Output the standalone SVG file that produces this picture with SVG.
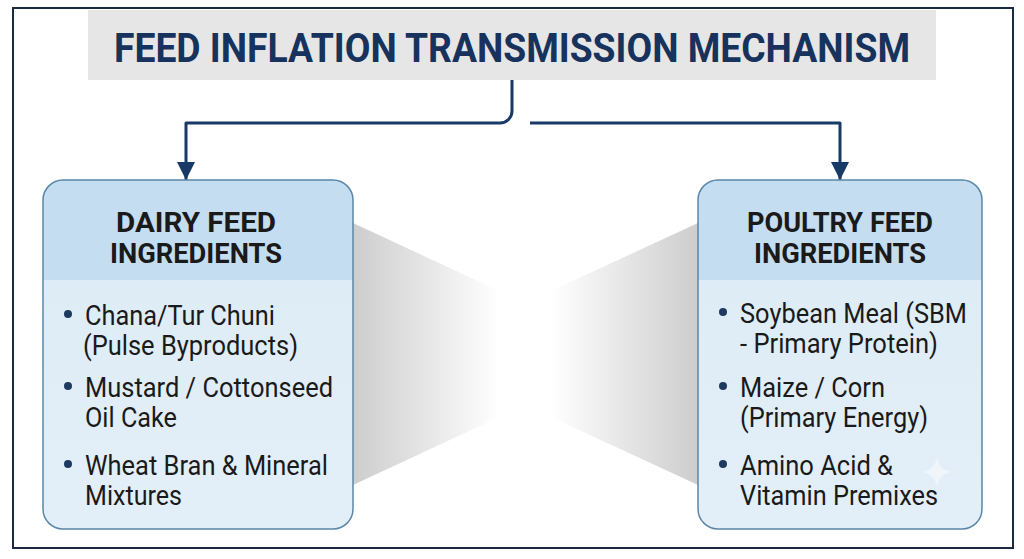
<svg xmlns="http://www.w3.org/2000/svg" width="1024" height="559" viewBox="0 0 1024 559">
  <defs>
    <style>
      .title { font-family: Roboto, "Liberation Sans", sans-serif; font-weight: 700; font-size: 40px; fill: #17325c; }
      .hdr { font-family: Roboto, "Liberation Sans", sans-serif; font-weight: 700; font-size: 27px; fill: #1a1a1a; text-anchor: middle; }
      .item { font-family: Roboto, "Liberation Sans", sans-serif; font-size: 27px; fill: #1a1a1a; }
      .conn { fill: none; stroke: #173a66; stroke-width: 3; stroke-linejoin: round; }
      .body { fill: url(#bodyGrad); }
      .head { fill: #c5ddf0; }
      .border { fill: none; stroke: #5b87a8; stroke-width: 1.5; }
      .dot { fill: #1f3a60; }
    </style>
    <marker id="arrow" viewBox="0 0 10 10" refX="10" refY="5" markerWidth="18" markerHeight="18" markerUnits="userSpaceOnUse" orient="auto">
      <path d="M0,0 L10,5 L0,10 z" fill="#173a66"/>
    </marker>
    <linearGradient id="bodyGrad" x1="0" y1="0" x2="0" y2="1">
      <stop offset="0" stop-color="#dcebf6"/>
      <stop offset="1" stop-color="#e3eff8"/>
    </linearGradient>
    <linearGradient id="shadeL" x1="353" y1="0" x2="525" y2="0" gradientUnits="userSpaceOnUse">
      <stop offset="0" stop-color="#cdcdcd"/>
      <stop offset="0.85" stop-color="#ffffff"/>
    </linearGradient>
    <linearGradient id="shadeR" x1="698" y1="0" x2="525" y2="0" gradientUnits="userSpaceOnUse">
      <stop offset="0" stop-color="#cdcdcd"/>
      <stop offset="0.85" stop-color="#ffffff"/>
    </linearGradient>
  </defs>

  <rect x="0" y="0" width="1024" height="559" fill="#ffffff"/>
  <rect x="13" y="8" width="1000" height="540" fill="none" stroke="#1b2a40" stroke-width="2"/>

  <g id="shadows">
    <polygon points="353,223 525,303 525,405 353,485" fill="url(#shadeL)"/>
    <polygon points="698,223 525,303 525,405 698,485" fill="url(#shadeR)"/>
  </g>

  <g id="title">
    <rect x="88" y="10" width="848" height="70" fill="#e6e6e6"/>
    <text class="title" x="114" y="62" textLength="796" lengthAdjust="spacingAndGlyphs">FEED INFLATION TRANSMISSION MECHANISM</text>
  </g>

  <g id="connectors">
    <path class="conn" d="M512,80 V111 A12,12 0 0 1 500,123 H186 V180" marker-end="url(#arrow)"/>
    <path class="conn" d="M530,123 H840 V180" marker-end="url(#arrow)"/>
  </g>

  <g id="dairy">
    <rect class="body" x="43" y="180" width="310" height="349" rx="20"/>
    <path class="head" d="M43,280 V200 A20,20 0 0 1 63,180 H333 A20,20 0 0 1 353,200 V280 Z"/>
    <rect class="border" x="43" y="180" width="310" height="349" rx="20"/>
    <text class="hdr" x="196" y="232" textLength="160" lengthAdjust="spacingAndGlyphs">DAIRY FEED</text>
    <text class="hdr" x="196" y="263" textLength="172" lengthAdjust="spacingAndGlyphs">INGREDIENTS</text>
    <circle class="dot" cx="68" cy="314" r="4"/>
    <text class="item" x="85" y="325" textLength="190" lengthAdjust="spacingAndGlyphs">Chana/Tur Chuni</text>
    <text class="item" x="83" y="355" textLength="215" lengthAdjust="spacingAndGlyphs">(Pulse Byproducts)</text>
    <circle class="dot" cx="68" cy="386" r="4"/>
    <text class="item" x="85" y="397" textLength="248" lengthAdjust="spacingAndGlyphs">Mustard / Cottonseed</text>
    <text class="item" x="85" y="427" textLength="92" lengthAdjust="spacingAndGlyphs">Oil Cake</text>
    <circle class="dot" cx="68" cy="464" r="4"/>
    <text class="item" x="85" y="475" textLength="243" lengthAdjust="spacingAndGlyphs">Wheat Bran &amp; Mineral</text>
    <text class="item" x="85" y="505" textLength="97" lengthAdjust="spacingAndGlyphs">Mixtures</text>
  </g>

  <g id="poultry">
    <rect class="body" x="698" y="180" width="284" height="349" rx="20"/>
    <path class="head" d="M698,280 V200 A20,20 0 0 1 718,180 H962 A20,20 0 0 1 982,200 V280 Z"/>
    <rect class="border" x="698" y="180" width="284" height="349" rx="20"/>
    <text class="hdr" x="840" y="232" textLength="186" lengthAdjust="spacingAndGlyphs">POULTRY FEED</text>
    <text class="hdr" x="840" y="263" textLength="172" lengthAdjust="spacingAndGlyphs">INGREDIENTS</text>
    <circle class="dot" cx="723" cy="312" r="4"/>
    <text class="item" x="740" y="323" textLength="227" lengthAdjust="spacingAndGlyphs">Soybean Meal (SBM</text>
    <text class="item" x="740" y="353" textLength="198" lengthAdjust="spacingAndGlyphs">- Primary Protein)</text>
    <circle class="dot" cx="723" cy="386" r="4"/>
    <text class="item" x="740" y="397" textLength="145" lengthAdjust="spacingAndGlyphs">Maize / Corn</text>
    <text class="item" x="740" y="427" textLength="188" lengthAdjust="spacingAndGlyphs">(Primary Energy)</text>
    <circle class="dot" cx="723" cy="464" r="4"/>
    <text class="item" x="740" y="475" textLength="153" lengthAdjust="spacingAndGlyphs">Amino Acid &amp;</text>
    <text class="item" x="740" y="505" textLength="198" lengthAdjust="spacingAndGlyphs">Vitamin Premixes</text>
    <path d="M937,457 Q939,470 952,472 Q939,474 937,487 Q935,474 922,472 Q935,470 937,457 Z" fill="#ffffff" opacity="0.45"/>
  </g>
</svg>
